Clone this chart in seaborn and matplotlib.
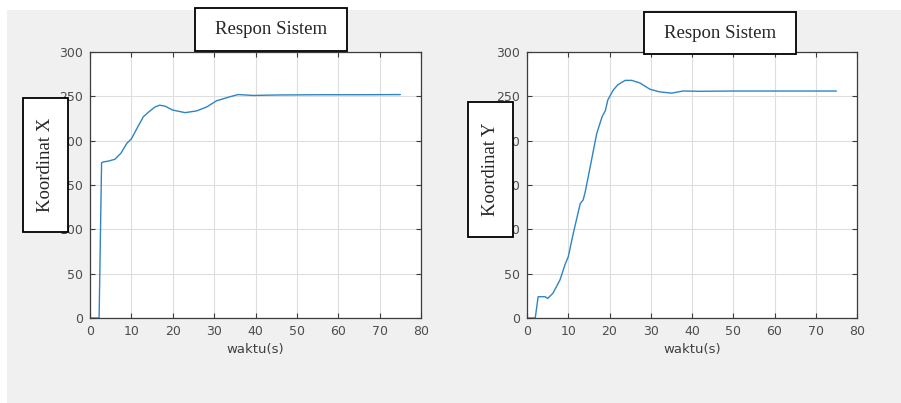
import matplotlib
matplotlib.use("Agg")
import matplotlib.pyplot as plt
from matplotlib.patches import Rectangle
import seaborn as sns
import pandas as pd

# ---- data ----
t_x = [0, 2.2, 2.8, 3.2, 4.5, 6.0, 7.5, 8.9, 10.0, 11.6, 12.9, 14.1, 15.7, 16.8,
       18.1, 20.0, 23.0, 25.8, 28.2, 30.6, 33.8, 35.8, 39.5, 45, 55, 65, 75]
koord_x = [0, 0, 175, 176, 177, 179, 186, 197, 202, 216, 227, 232, 238, 240,
           239, 234.5, 231.6, 233.6, 238, 245, 249.5, 252, 251, 251.5, 251.8, 251.8, 252]

t_y = [0, 2.0, 2.7, 4.4, 5.0, 6.3, 8.0, 9.2, 10.0, 11.2, 12.9, 13.6, 14.1, 15.3,
       16.9, 18.2, 19.0, 19.6, 20.9, 22.0, 23.8, 25.4, 27.4, 29.8, 32.2, 35.1,
       37.8, 41.9, 50, 60, 75]
koord_y = [0, 0, 24, 24, 22, 28, 43, 60, 69, 95, 129, 133, 142, 170,
           208, 227, 234, 246, 257, 263, 268, 268, 265, 258, 255, 253.6,
           256, 255.7, 256, 256, 256]

x_ticks = [0, 10, 20, 30, 40, 50, 60, 70, 80]
y_ticks = [0, 50, 100, 150, 200, 250, 300]
title_text = "Respon Sistem"
xlabel_text = "waktu(s)"
ylabels = ["Koordinat X", "Koordinat Y"]

df_x = pd.DataFrame({"t": t_x, "v": koord_x})
df_y = pd.DataFrame({"t": t_y, "v": koord_y})

sns.set_style("white")
plt.rcParams["font.family"] = ["DejaVu Sans"]

W, H = 901, 403
fig = plt.figure(figsize=(W / 100, H / 100), dpi=100, facecolor="white")

# gray figure background (MATLAB-like)
fig.patches.append(Rectangle((7 / W, 0), 1 - 7 / W, (H - 10) / H,
                             transform=fig.transFigure, facecolor="#f0f0f0",
                             edgecolor="none", zorder=-10))

def px_rect(x0, y0, x1, y1):
    return [x0 / W, 1 - y1 / H, (x1 - x0) / W, (y1 - y0) / H]

ax_pos = [(90, 52, 421, 318), (527, 52, 857, 318)]
dfs = [df_x, df_y]
line_color = "#2f84c2"
tick_color = "#4d4d4d"

for (x0, y0, x1, y1), df in zip(ax_pos, dfs):
    ax = fig.add_axes(px_rect(x0, y0, x1, y1))
    ax.set_facecolor("white")
    sns.lineplot(data=df, x="t", y="v", ax=ax, color=line_color, linewidth=1.0,
                 estimator=None, sort=False)
    ax.set_xlim(0, 80)
    ax.set_ylim(0, 300)
    ax.set_xticks(x_ticks)
    ax.set_yticks(y_ticks)
    ax.grid(True, color="#dedede", linewidth=0.8)
    ax.set_axisbelow(True)
    for s in ax.spines.values():
        s.set_color("#3c3c3c")
        s.set_linewidth(0.9)
    ax.tick_params(direction="in", length=3.5, width=0.8, colors="#3c3c3c",
                   labelcolor=tick_color, labelsize=9, top=True, right=True,
                   bottom=True, left=True, pad=5)
    ax.set_xlabel(xlabel_text, fontsize=9.5, color="#404040", labelpad=4)
    ax.set_ylabel("")

serif = ["Liberation Serif", "DejaVu Serif"]

# title boxes
for (bx0, by0, bx1, by1) in [(195, 8, 347, 51), (644, 12, 796, 54)]:
    fig.patches.append(Rectangle((bx0 / W, 1 - by1 / H), (bx1 - bx0) / W, (by1 - by0) / H,
                                 transform=fig.transFigure, facecolor="white",
                                 edgecolor="black", linewidth=1.3, zorder=20))
    fig.text((bx0 + bx1) / 2 / W, 1 - (by0 + by1) / 2 / H, title_text,
             ha="center", va="center", fontsize=13.5, family=serif, zorder=21)

# y-label boxes
for (bx0, by0, bx1, by1), lab in zip([(23, 98, 68, 232), (468, 102, 513, 237)], ylabels):
    fig.patches.append(Rectangle((bx0 / W, 1 - by1 / H), (bx1 - bx0) / W, (by1 - by0) / H,
                                 transform=fig.transFigure, facecolor="white",
                                 edgecolor="black", linewidth=1.3, zorder=20))
    fig.text((bx0 + bx1) / 2 / W, 1 - (by0 + by1) / 2 / H, lab, rotation=90,
             ha="center", va="center", fontsize=13.5, family=serif, zorder=21)

fig.savefig("out.png", dpi=100, facecolor="white")
